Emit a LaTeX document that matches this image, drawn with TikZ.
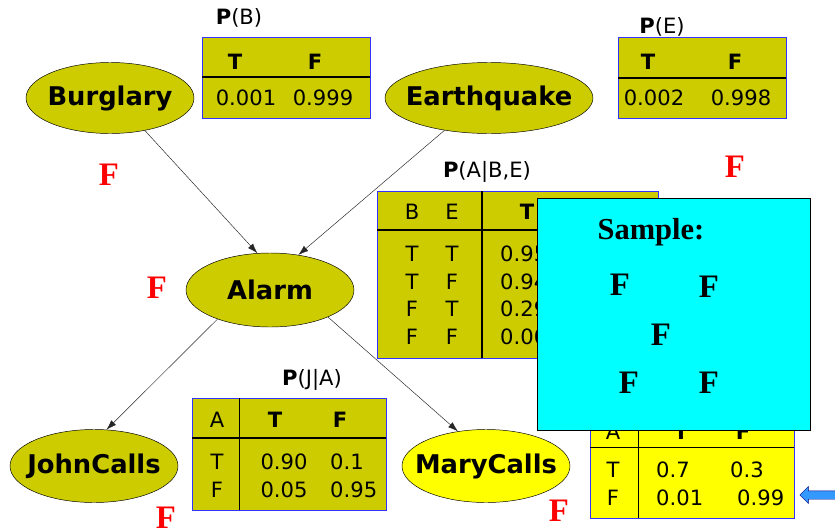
\documentclass[tikz,border=0pt]{standalone}
\usepackage{fontspec}
\setmainfont{Liberation Serif}
\setsansfont{DejaVu Sans}
\usetikzlibrary{shapes.geometric,shapes.arrows,arrows.meta}
\definecolor{cptolive}{HTML}{CCCC00}
\definecolor{cptyellow}{HTML}{FFFF00}
\definecolor{tblue}{HTML}{3333FF}
\definecolor{arrowblue}{HTML}{3399FF}
\definecolor{samplecyan}{HTML}{00FFFF}

\begin{document}
\begin{tikzpicture}[x=0.03cm,y=-0.03cm,
    var/.style={ellipse, draw, thin, fill=cptolive, inner sep=0pt,
        minimum width=5.04cm, minimum height=2.19cm},
    varlbl/.style={inner sep=0pt, font=\sffamily\bfseries\fontsize{22}{24}\selectfont},
    cpt/.style={draw=tblue, line width=0.8pt, fill=cptolive},
    rule/.style={line width=1.2pt},
    txt/.style={inner sep=0pt, font=\sffamily\fontsize{18}{20}\selectfont},
    hd/.style={txt, font=\sffamily\bfseries\fontsize{18}{20}\selectfont},
    val/.style={inner sep=0pt, red, font=\bfseries\fontsize{28}{30}\selectfont},
    smp/.style={inner sep=0pt, font=\bfseries\fontsize{28}{30}\selectfont},
    link/.style={draw=black!85, thin, -{Latex[length=3mm,width=2mm]}}]
\useasboundingbox [fill=white] (0,0) rectangle (835,529);

% network
\node (burglary) [var, minimum height=2.13cm, label={[varlbl]center:Burglary}] at (110,98) {};
\node (earthquake) [var, minimum width=6.24cm, minimum height=2.13cm, label={[varlbl]center:Earthquake}] at (489,98) {};
\node (alarm) [var, minimum height=2.22cm, label={[varlbl]center:Alarm}] at (270,290) {};
\node (john) [var, label={[varlbl]center:JohnCalls}] at (94,466) {};
\node (mary) [var, fill=cptyellow, label={[varlbl]center:MaryCalls}] at (486,466) {};

\draw [link] (burglary.-43) -- (alarm.109);
\draw [link] (earthquake.216) -- (alarm.51);
\draw [link] (alarm.209) -- (john.71);
\draw [link] (alarm.-25) -- (mary.129);

% P(B)
\node (pb) [txt] at (239,18) {\textbf{P}(B)};
\draw [cpt] (202,37) rectangle (370,118);
\draw [rule] (202,77) -- (370,77);
\node (pbT) [hd] at (235,62) {T};
\node (pbF) [hd] at (315,62) {F};
\node (pbt) [txt] at (246,98) {0.001};
\node (pbf) [txt] at (323,98) {0.999};

% P(E)
\node (pe) [txt] at (662,27) {\textbf{P}(E)};
\draw [cpt] (618,37) rectangle (786,118);
\draw [rule] (618,78) -- (786,78);
\node (peT) [hd] at (648,62) {T};
\node (peF) [hd] at (735,62) {F};
\node (pet) [txt] at (654,98) {0.002};
\node (pef) [txt] at (741,98) {0.998};

% P(A|B,E)
\node (pa) [txt] at (487,172) {\textbf{P}(A|B,E)};
\draw [cpt] (377,191) rectangle (658,358);
\draw [rule] (377,230) -- (658,230);
\draw [rule] (482,191) -- (482,358);
\node (paB) [txt] at (412,212) {B};
\node (paE) [txt] at (452,212) {E};
\node (paT) [hd] at (527,212) {T};
\foreach \b/\e/\t [count=\i] in {T/T/0.95, T/F/0.94, F/T/0.29, F/F/0.001}{
  \node (pa-\i-b) [txt] at (412,226+27.7*\i) {\b};
  \node (pa-\i-e) [txt] at (452,226+27.7*\i) {\e};
  \node (pa-\i-t) [txt, anchor=west] at (500,226+27.7*\i) {\t};
}

% P(J|A)
\node (pj) [txt] at (312,380) {\textbf{P}(J|A)};
\draw [cpt] (192,398) rectangle (386,510);
\draw [rule] (192,438) -- (386,438);
\draw [rule, line width=0.8pt] (239,398) -- (239,510);
\node (pjA) [txt] at (217,420) {A};
\node (pjT) [hd] at (275,420) {T};
\node (pjF) [hd] at (340,420) {F};
\node (pj-1-a) [txt] at (217,462) {T};
\node (pj-2-a) [txt] at (217,490) {F};
\node (pj-1-t) [txt] at (284,462) {0.90};
\node (pj-2-t) [txt] at (284,490) {0.05};
\node (pj-1-f) [txt, anchor=west] at (330,462) {0.1};
\node (pj-2-f) [txt, anchor=west] at (330,490) {0.95};

% P(M|A)
\draw [cpt, fill=cptyellow] (590,410) rectangle (794,518);
\draw [rule, line width=0.8pt] (590,447) -- (794,447);
\draw [rule, line width=0.8pt] (638,410) -- (638,518);
\node (pmA) [txt] at (613,432) {A};
\node (pmT) [hd] at (681,432) {T};
\node (pmF) [hd] at (743,432) {F};
\node (pm-1-a) [txt] at (613,470) {T};
\node (pm-2-a) [txt] at (613,498) {F};
\node (pm-1-t) [txt, anchor=west] at (656,470) {0.7};
\node (pm-2-t) [txt, anchor=west] at (656,498) {0.01};
\node (pm-1-f) [txt, anchor=west] at (730,470) {0.3};
\node (pm-2-f) [txt, anchor=west] at (737,498) {0.99};

\node (pointer) [single arrow, draw=blue!50!black, fill=arrowblue, inner xsep=0pt, inner ysep=0.12cm,
    minimum height=1.2cm, single arrow head extend=0.13cm,
    shape border rotate=180] at (822,495) {};

% sample box
\node (samplebox) [draw, line width=0.8pt, fill=samplecyan, inner sep=0pt, anchor=north west,
    minimum width=8.19cm, minimum height=6.96cm] at (537,198) {};
\node (sample) [inner sep=0pt, font=\bfseries\fontsize{26}{30}\selectfont] at (651,232) {Sample:};
\node (sB) [smp] at (620,285) {F};
\node (sE) [smp] at (709,287) {F};
\node (sA) [smp] at (661,335) {F};
\node (sJ) [smp] at (629,383) {F};
\node (sM) [smp] at (709,383) {F};

% sampled values
\node (vB) [val] at (109,175) {F};
\node (vE) [val] at (735,167) {F};
\node (vA) [val] at (157,288) {F};
\node (vJ) [val] at (166,518) {F};
\node (vM) [val] at (559,511) {F};
\end{tikzpicture}
\end{document}
